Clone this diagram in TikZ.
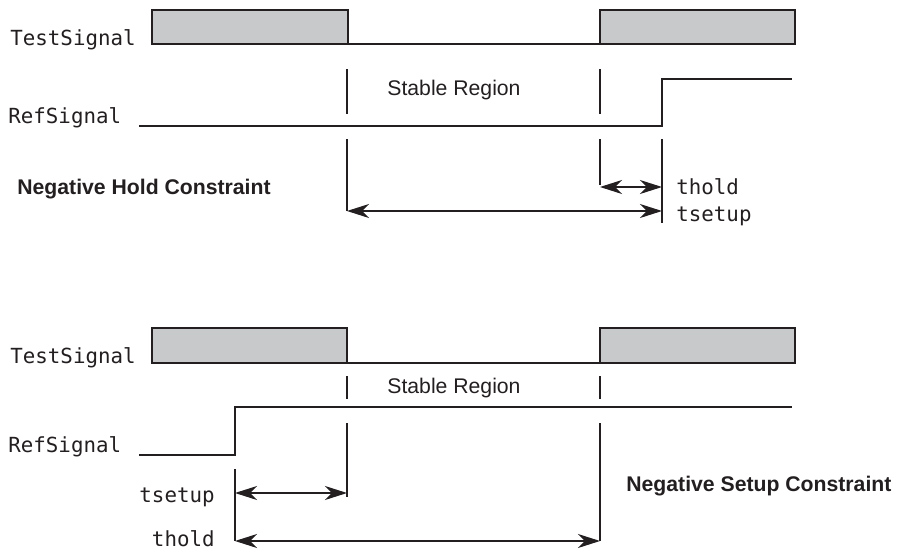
\documentclass[tikz,border=0pt]{standalone}
\usepackage{fontspec}
\setmainfont{Liberation Sans}
\newfontfamily\chronofont{DejaVu Sans Mono}
\usetikzlibrary{arrows.meta}
\definecolor{encre}{HTML}{231F20}
\definecolor{grisbloc}{HTML}{C8C9CB}

\begin{document}
\begin{tikzpicture}[x=0.5pt,y=-0.5pt,
  every node/.style={inner sep=0pt,text=encre,font=\fontsize{10.6}{12}\selectfont},
  nomsig/.style={font=\fontsize{10.4}{12}\selectfont\chronofont},
  titre/.style={anchor=base west,font=\fontsize{10.6}{12}\selectfont\bfseries},
  bloc/.style={draw=encre,fill=grisbloc,line width=1pt},
  signal/.style={draw=encre,line width=1pt},
  repere/.style={draw=encre,line width=0.75pt},
  fleche/.style={draw=encre,line width=0.75pt,
    {Stealth[length=11pt,width=7pt,inset=3.5pt]}-{Stealth[length=11pt,width=7pt,inset=3.5pt]}}]

\useasboundingbox (0,0) rectangle (902,552);

%contrainte de hold negative (en haut)
\begin{scope}
    \node[nomsig,anchor=base west] (test1) at (10,45) {TestSignal};
    \node[nomsig,anchor=base west] (ref1) at (8,123) {RefSignal};
    % blocs du signal teste
    \foreach \xa/\xb in {152/348,600/795}{\draw[bloc] (\xa,44) rectangle (\xb,10);}
    \draw[signal] (348,44) -- (600,44);
    % signal de reference
    \draw[signal] (139,126) -- (662,126) -- (662,79) -- (792,79);
    % reperes de la zone stable
    \foreach \x in {347,600}{\draw[repere] (\x,69) -- (\x,114);}
    \node[anchor=base west] (stable1) at (387,95) {Stable Region};
    % cotes
    \coordinate (a1) at (347,211);
    \coordinate (b1) at (600,187);
    \coordinate (c1) at (662,187);
    \coordinate (d1) at (662,211);
    \draw[repere] (347,139) -- (a1);
    \draw[repere] (600,139) -- (600,185);
    \draw[repere] (662,139) -- (662,223);
    \draw[fleche] (b1) -- (c1);
    \draw[fleche] (a1) -- (d1);
    \node[nomsig,anchor=base west] (thold1) at (676,194) {thold};
    \node[nomsig,anchor=base west] (tsetup1) at (676,221) {tsetup};
    \node[titre] (hold) at (17,194) {Negative Hold Constraint};
\end{scope}

%contrainte de setup negative (en bas)
\begin{scope}
    \node[nomsig,anchor=base west] (test2) at (10,363) {TestSignal};
    \node[nomsig,anchor=base west] (ref2) at (8,452) {RefSignal};
    % blocs du signal teste
    \foreach \xa/\xb in {152/347,600/795}{\draw[bloc] (\xa,363) rectangle (\xb,328);}
    \draw[signal] (347,363) -- (600,363);
    % signal de reference
    \draw[signal] (139,455) -- (235,455) -- (235,407) -- (792,407);
    % reperes de la zone stable
    \foreach \x in {347,600}{\draw[repere] (\x,376) -- (\x,399);}
    \node[anchor=base west] (stable2) at (387,393) {Stable Region};
    % cotes
    \coordinate (a2) at (235,493);
    \coordinate (b2) at (347,493);
    \coordinate (c2) at (235,541);
    \coordinate (d2) at (600,541);
    \draw[repere] (347,423) -- (347,497);
    \draw[repere] (600,423) -- (d2);
    \draw[repere] (235,469) -- (c2);
    \draw[fleche] (a2) -- (b2);
    \draw[fleche] (c2) -- (d2);
    \node[nomsig,anchor=base east] (tsetup2) at (215,502) {tsetup};
    \node[nomsig,anchor=base east] (thold2) at (215,546) {thold};
    \node[titre] (setup) at (626,491) {Negative Setup Constraint};
\end{scope}

\end{tikzpicture}
\end{document}
